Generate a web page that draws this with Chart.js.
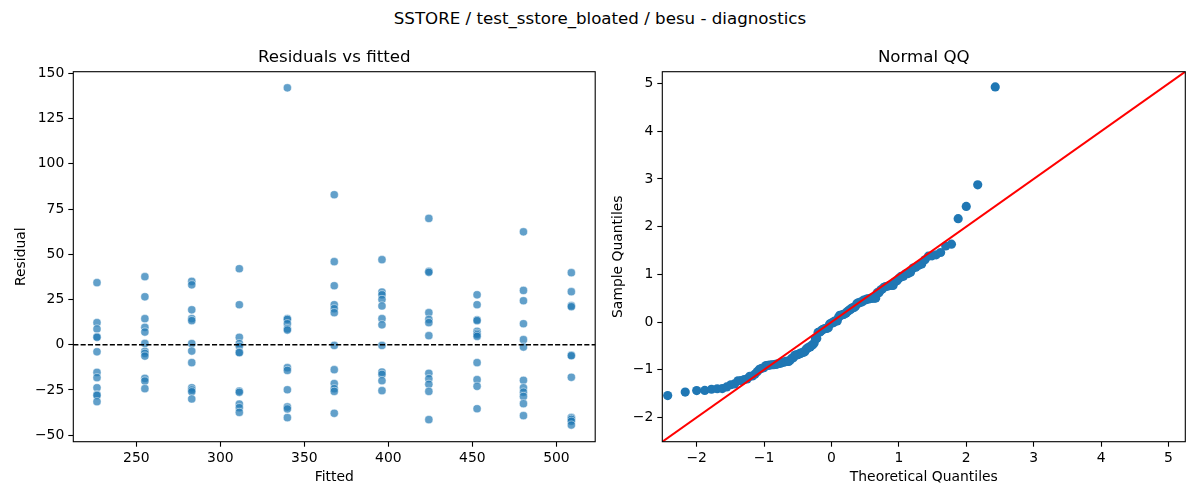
<!DOCTYPE html>
<html>
<head>
<meta charset="utf-8">
<script src="https://cdn.jsdelivr.net/npm/chart.js@4.4.0/dist/chart.umd.min.js"></script>
<style>
html,body{margin:0;padding:0;background:#fff;}
#wrap{position:relative;width:1200px;height:500px;overflow:hidden;font-family:"DejaVu Sans",sans-serif;}
#sup{position:absolute;left:0;top:8.5px;width:1200px;text-align:center;font-size:16.67px;line-height:20px;color:#000;}
.box{position:absolute;top:0;width:600px;height:500px;}
</style>
</head>
<body>
<div id="wrap">
  <div id="sup">SSTORE / test_sstore_bloated / besu - diagnostics</div>
  <div class="box" style="left:0"><canvas id="c1"></canvas></div>
  <div class="box" style="left:600px"><canvas id="c2"></canvas></div>
</div>
<script>
// ---------- data ----------
const fittedLevels = [226.6, 255.1, 283.0, 311.3, 339.9, 367.8, 396.2, 424.1, 452.8, 480.4, 508.9];
const residuals = [
  [34.3, 12.2, 8.7, 4.4, 4.1, -3.9, -15.3, -18.2, -23.8, -27.6, -28.0, -31.5],
  [37.6, 26.5, 14.4, 9.6, 7.0, 0.7, -3.7, -4.8, -6.3, -18.6, -20.1, -24.3],
  [35.0, 33.1, 19.3, 14.4, 13.3, 0.6, -3.5, -9.9, -23.8, -25.0, -26.0, -30.0],
  [42.0, 22.1, 4.1, 0.6, -0.9, -4.1, -4.4, -25.6, -26.3, -32.8, -34.8, -37.4],
  [142.0, 14.5, 14.0, 11.6, 8.8, 8.1, -12.7, -14.2, -24.9, -34.4, -35.5, -40.3],
  [82.9, 45.9, 32.6, 22.1, 19.9, 17.7, -0.4, -13.8, -21.5, -24.3, -25.8, -37.9],
  [47.0, 29.1, 27.6, 25.0, 21.4, 14.4, 11.0, -0.4, -15.1, -16.4, -19.9, -25.4],
  [69.8, 40.6, 40.0, 17.7, 14.0, 12.2, 5.0, -15.8, -18.8, -21.9, -25.8, -41.4],
  [27.6, 22.1, 13.8, 13.3, 7.4, 6.3, 5.5, 4.6, -9.9, -19.3, -23.0, -35.4],
  [62.4, 30.0, 24.3, 11.6, 2.8, -1.3, -19.7, -23.8, -26.2, -28.6, -32.6, -39.2],
  [39.8, 29.3, 21.6, 21.0, -5.8, -6.1, -18.0, -40.2, -40.6, -41.3, -42.3, -44.4]
];
const theoreticalQ = [
  -2.43, -2.17, -2.00, -1.88, -1.78, -1.695, -1.62, -1.554, -1.493, -1.438,
  -1.387, -1.339, -1.295, -1.252, -1.212, -1.173, -1.137, -1.102, -1.068, -1.035,
  -1.003, -0.972, -0.943, -0.914, -0.885, -0.858, -0.831, -0.805, -0.779, -0.754,
  -0.729, -0.704, -0.680, -0.657, -0.634, -0.611, -0.588, -0.566, -0.544, -0.522,
  -0.501, -0.479, -0.458, -0.438, -0.417, -0.396, -0.376, -0.356, -0.336, -0.316,
  -0.296, -0.277, -0.257, -0.238, -0.218, -0.199, -0.180, -0.161, -0.142, -0.123,
  -0.104, -0.085, -0.066, -0.047, -0.028, -0.009,
  0.009, 0.028, 0.047, 0.066, 0.085, 0.104, 0.123, 0.142, 0.161, 0.180,
  0.199, 0.218, 0.238, 0.257, 0.277, 0.296, 0.316, 0.336, 0.356, 0.376,
  0.396, 0.417, 0.438, 0.458, 0.479, 0.501, 0.522, 0.544, 0.566, 0.588,
  0.611, 0.634, 0.657, 0.680, 0.704, 0.729, 0.754, 0.779, 0.805, 0.831,
  0.858, 0.885, 0.914, 0.943, 0.972, 1.003, 1.035, 1.068, 1.102, 1.137,
  1.173, 1.212, 1.252, 1.295, 1.339, 1.387, 1.438, 1.493, 1.554, 1.62,
  1.695, 1.78, 1.88, 2.00, 2.17, 2.43
];
const sampleQ = [
  -1.542, -1.469, -1.438, -1.434, -1.410, -1.399, -1.396, -1.361, -1.316, -1.299,
  -1.233, -1.229, -1.208, -1.194, -1.139, -1.132, -1.094, -1.042, -0.993, -0.972,
  -0.958, -0.913, -0.910, -0.903, -0.896, -0.896, -0.889, -0.882, -0.868, -0.865,
  -0.844, -0.844, -0.826, -0.826, -0.826, -0.799, -0.760, -0.747, -0.698, -0.691,
  -0.684, -0.670, -0.653, -0.646, -0.632, -0.625, -0.569, -0.549, -0.531, -0.524,
  -0.493, -0.479, -0.441, -0.344, -0.344, -0.219, -0.212, -0.201, -0.167, -0.153,
  -0.142, -0.135, -0.128, -0.122, -0.045, -0.031, -0.014, -0.014,
  0.021, 0.021, 0.024, 0.097, 0.142, 0.142, 0.153, 0.160, 0.174, 0.191,
  0.219, 0.243, 0.257, 0.281, 0.302, 0.306, 0.333, 0.382, 0.403, 0.403,
  0.424, 0.424, 0.462, 0.462, 0.479, 0.486, 0.486, 0.500, 0.500, 0.500,
  0.503, 0.615, 0.615, 0.670, 0.691, 0.729, 0.743, 0.750, 0.767, 0.767,
  0.767, 0.844, 0.868, 0.920, 0.958, 0.958, 1.010, 1.017, 1.042, 1.132,
  1.149, 1.191, 1.215, 1.306, 1.382, 1.389, 1.410, 1.458, 1.594, 1.632,
  2.167, 2.424, 2.878, 4.931
];
const residXTicks = [250, 300, 350, 400, 450, 500];
const residYTicks = [-50, -25, 0, 25, 50, 75, 100, 125, 150];
const qqTicks = [-2, -1, 0, 1, 2, 3, 4, 5];
const residXLim = [212.5, 523.1];
const residYLim = [-53.6, 150.9];
const qqLim = [-2.51, 5.25];
const zeroRef = 0;

// ---------- helpers ----------
const FONT = "'DejaVu Sans', sans-serif";
const BLUE = '#1f77b4';
const fmt = v => String(v).replace('-', '\u2212');
const setTicks = arr => scale => { scale.ticks = arr.map(v => ({ value: v })); };
const fixSize = size => scale => { if (scale.isHorizontal()) scale.height = size; else scale.width = size; };

const spines = {
  id: 'spines',
  afterDraw(chart) {
    const { ctx, chartArea: a } = chart;
    ctx.save();
    ctx.strokeStyle = '#000';
    ctx.lineWidth = 1.1;
    ctx.strokeRect(a.left, a.top, a.right - a.left, a.bottom - a.top);
    ctx.restore();
  }
};
const zeroLine = {
  id: 'zeroLine',
  afterDatasetsDraw(chart) {
    const { ctx, chartArea: a } = chart;
    const y = chart.scales.y.getPixelForValue(zeroRef);
    ctx.save();
    ctx.strokeStyle = '#000';
    ctx.lineWidth = 1.39;
    ctx.setLineDash([5.1, 2.2]);
    ctx.beginPath();
    ctx.moveTo(a.left, y);
    ctx.lineTo(a.right, y);
    ctx.stroke();
    ctx.restore();
  }
};

function axis(lim, ticks, title, titlePad, fixed, horizontal) {
  return {
    type: 'linear',
    position: horizontal ? 'bottom' : 'left',
    min: lim[0], max: lim[1],
    afterBuildTicks: setTicks(ticks),
    afterFit: fixSize(fixed),
    grid: { display: true, drawOnChartArea: false, drawTicks: true, tickLength: 5, tickWidth: 1.1, tickColor: '#000', color: '#000' },
    border: { display: false },
    ticks: { color: '#000', font: { family: FONT, size: 13.9 }, padding: horizontal ? 3 : 4, maxRotation: 0, autoSkip: false, callback: v => fmt(v) },
    title: { display: true, text: title, color: '#000', font: { family: FONT, size: 13.9 }, padding: horizontal ? { top: 0, bottom: titlePad } : { top: titlePad, bottom: 0 } }
  };
}
function titleOpts(text) {
  return { display: true, text, color: '#000', fullSize: false,
    font: { family: FONT, size: 16.67, weight: 'normal', lineHeight: 1.2 },
    padding: { top: 47.5, bottom: 4.2 } };
}

// ---------- left chart ----------
const residPoints = [];
fittedLevels.forEach((fx, i) => residuals[i].forEach(r => residPoints.push({ x: fx, y: r })));

new Chart(document.getElementById('c1'), {
  type: 'scatter',
  data: { datasets: [{
    data: residPoints,
    backgroundColor: 'rgba(31,119,180,0.7)',
    borderColor: 'rgba(255,255,255,0.7)',
    borderWidth: 0.7,
    pointRadius: 4.1,
    pointHoverRadius: 4.1
  }] },
  options: {
    responsive: true, maintainAspectRatio: false, animation: false, events: [],
    layout: { padding: { left: 0, right: 2.7, top: 0, bottom: 0 } },
    plugins: { legend: { display: false }, tooltip: { enabled: false }, title: titleOpts('Residuals vs fitted') },
    scales: {
      x: axis(residXLim, residXTicks, 'Fitted', 14.7, 58.3, true),
      y: axis(residYLim, residYTicks, 'Residual', 12.7, 73.3, false)
    }
  },
  plugins: [zeroLine, spines]
});

// ---------- right chart ----------
const qqPoints = theoreticalQ.map((t, i) => ({ x: t, y: sampleQ[i] }));
new Chart(document.getElementById('c2'), {
  type: 'scatter',
  data: { datasets: [
    { type: 'line', data: [{ x: qqLim[0], y: qqLim[0] }, { x: qqLim[1], y: qqLim[1] }],
      borderColor: '#ff0000', borderWidth: 2.08, pointRadius: 0, fill: false, order: 0 },
    { data: qqPoints, backgroundColor: BLUE, borderColor: BLUE, borderWidth: 0,
      pointRadius: 4.6, pointHoverRadius: 4.6, order: 1 }
  ] },
  options: {
    responsive: true, maintainAspectRatio: false, animation: false, events: [],
    layout: { padding: { left: 0, right: 14.7, top: 0, bottom: 0 } },
    plugins: { legend: { display: false }, tooltip: { enabled: false }, title: titleOpts('Normal QQ') },
    scales: {
      x: axis(qqLim, qqTicks, 'Theoretical Quantiles', 14.7, 58.3, true),
      y: axis(qqLim, qqTicks, 'Sample Quantiles', 9.7, 62.3, false)
    }
  },
  plugins: [spines]
});
</script>
</body>
</html>
